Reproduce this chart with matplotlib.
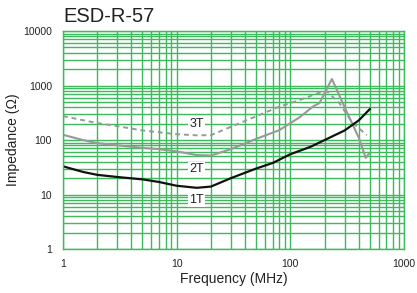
import matplotlib
matplotlib.use("Agg")
import matplotlib.pyplot as plt
from matplotlib.ticker import LogLocator, NullFormatter, FuncFormatter

plt.rcParams["font.family"] = ["Liberation Sans", "DejaVu Sans"]

# 1T curve
f_1t = [1, 1.5, 2, 3, 5, 7, 10, 15, 20, 30, 50, 70, 100, 150, 200, 300, 400, 500]
z_1t = [33, 26, 23, 21, 19, 17, 14.5, 13.3, 14, 20, 30, 38, 55, 75, 100, 150, 230, 370]

# 2T curve
f_2t = [1, 1.5, 2, 3, 5, 7, 10, 15, 20, 30, 50, 80, 120, 160, 180, 232, 300, 350, 400, 460, 490]
z_2t = [125, 100, 88, 80, 72, 68, 62, 53, 52, 68, 105, 152, 260, 420, 475, 1320, 400, 200, 110, 47, 56]

# 3T curve
f_3t = [1, 2, 3, 5, 10, 15, 20, 30, 60, 80, 120, 180, 210, 270, 350, 470]
z_3t = [275, 205, 180, 150, 128, 122, 123, 175, 320, 410, 540, 740, 780, 475, 210, 123]

labels = ["1T", "2T", "3T"]
label_pos = [(15, 8.0), (15, 29), (15, 195)]

GREEN = "#3dbb5c"

fig = plt.figure(figsize=(4.17, 2.93), dpi=100)
ax = fig.add_axes([0.151, 0.150, 0.818, 0.744])

ax.set_xscale("log")
ax.set_yscale("log")
ax.set_xlim(1, 1000)
ax.set_ylim(1, 10000)

for axis in (ax.xaxis, ax.yaxis):
    axis.set_major_locator(LogLocator(base=10))
    axis.set_minor_locator(LogLocator(base=10, subs=range(2, 10)))
    axis.set_minor_formatter(NullFormatter())
    axis.set_major_formatter(FuncFormatter(lambda v, _: f"{v:g}"))

ax.grid(True, which="both", color=GREEN, lw=1.0)
ax.set_axisbelow(True)
for sp in ax.spines.values():
    sp.set_color(GREEN)
    sp.set_linewidth(1.0)
ax.tick_params(which="both", length=0, labelsize=7.5, colors="#222222")
ax.tick_params(axis="x", pad=7)
ax.tick_params(axis="y", pad=8)

ax.plot(f_3t, z_3t, color="#999999", lw=1.4, ls=(0, (2.5, 2)))
ax.plot(f_2t, z_2t, color="#999999", lw=1.5)
ax.plot(f_1t, z_1t, color="#111111", lw=1.6)

for lab, (x, y) in zip(labels, label_pos):
    ax.text(x, y, lab, ha="center", va="center", fontsize=9, color="#222222",
            bbox=dict(facecolor="white", edgecolor="none", pad=1.0))

ax.set_xlabel("Frequency (MHz)", fontsize=10, labelpad=2, color="#222222")
ax.set_ylabel("Impedance (Ω)", fontsize=10, labelpad=2, color="#222222")

fig.text(63 / 417, 1 - 17 / 293, "ESD-R-57", fontsize=14.5, ha="left", va="center",
         color="#222222")

fig.savefig("out.png", dpi=100)
